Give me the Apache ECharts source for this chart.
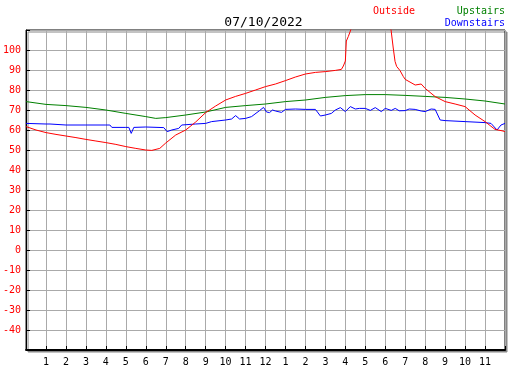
<!DOCTYPE html>
<html>
<head>
<meta charset="utf-8">
<script src="https://cdn.jsdelivr.net/npm/echarts@6/dist/echarts.min.js"></script>
<style>html,body{margin:0;padding:0;background:#fff;}#c{width:527px;height:370px;}</style>
</head>
<body>
<div id="c"></div>
<script>
var titleText = '07/10/2022';
var seriesNames = ['Outside', 'Upstairs', 'Downstairs'];
var xTickLabels = ['', '1','2','3','4','5','6','7','8','9','10','11','12','1','2','3','4','5','6','7','8','9','10','11',''];

var outsideHours = [0,0.5,1,1.5,2,2.5,3,3.5,4,4.5,5,5.5,6,6.3,6.7,7,7.5,8,8.5,9,9.5,10,10.5,11,11.5,12,12.5,13,13.5,14,14.5,15,15.5,15.8,15.9,16,16.05,16.15,16.27,16.4,17,17.5,18,18.29,18.4,18.49,18.57,18.74,18.9,19,19.5,19.8,20,20.5,21,21.5,22,22.5,23,23.5,23.9,24];
var outsideTemps = [61.7,60,58.7,57.8,57,56.2,55.3,54.5,53.7,52.8,51.7,50.8,50,49.8,50.8,53.5,57.5,60,64,68.7,72,75,76.8,78.3,80,81.7,83,84.7,86.5,88,88.8,89.2,89.8,90.3,92,94.5,104.5,106.8,110,118,125,125,120,110,101,94.3,91.8,89.7,86.8,85.3,82.5,83,80.8,76.7,74.2,73,71.7,67.5,64.2,60.3,59.5,59.2];

var upstairsHours = [0,1,2,3,4,5,6,6.5,7,8,9,10,11,12,13,14,15,16,17,18,19,20,21,22,23,24];
var upstairsTemps = [74.2,72.8,72.2,71.3,70,68.3,66.7,65.8,66.2,67.5,69,71.3,72.2,73,74.2,75,76.3,77.2,77.7,77.7,77.3,76.8,76.3,75.5,74.5,73];

var downstairsHours = [0,1,1.1,1.2,2,3,4,4.1,4.2,4.3,5,5.15,5.27,5.4,6,6.9,7.07,7.3,7.65,7.8,8.5,9,9.3,10,10.3,10.5,10.7,11,11.3,11.7,11.9,12.05,12.2,12.35,12.5,12.8,13,13.5,14,14.5,14.6,14.75,15,15.3,15.5,15.75,16,16.25,16.5,16.7,17,17.25,17.5,17.8,18,18.3,18.5,18.7,19,19.2,19.5,19.8,20,20.3,20.5,20.75,21,22,23,23.3,23.6,23.8,24];
var downstairsTemps = [63.3,63,62.7,63,62.5,62.5,62.5,63,62.5,61.3,61.3,61.3,58.3,61.3,61.5,61.2,59.2,60,60.8,62.5,63,63.3,64.2,65,65.5,67.2,65.5,65.8,66.7,69.7,71.3,69,68.7,70,69.5,68.8,70.3,70.5,70.3,70.3,69,67,67.5,68.3,70,71.2,69.2,71.7,70.5,70.8,70.8,69.8,71.2,69.2,70.8,69.8,70.8,69.6,69.7,70.5,70.3,69.5,69.2,70.5,70.3,65,64.7,64.2,63.7,63.3,60,62.5,63.3];

var yMin = -50, yMax = 110, yStep = 10;

function pairs(h, v) { return h.map(function (x, i) { return [x, v[i]]; }); }

var chart = echarts.init(document.getElementById('c'), null, {renderer: 'canvas'});
var mono = 'DejaVu Sans Mono';
chart.setOption({
  animation: false,
  backgroundColor: '#fff',
  title: {
    text: titleText, left: 'center', top: 11,
    textStyle: {fontFamily: mono, fontSize: 13, fontWeight: 'normal', color: '#000'}
  },
  graphic: [
    {type: 'text', left: 373, top: 6, style: {text: seriesNames[0], fill: '#ff0000', font: '10px "DejaVu Sans Mono"'}},
    {type: 'text', right: 22, top: 6, style: {text: seriesNames[1], fill: '#008000', font: '10px "DejaVu Sans Mono"'}},
    {type: 'text', right: 22, top: 18, style: {text: seriesNames[2], fill: '#0000ff', font: '10px "DejaVu Sans Mono"'}}
  ],
  grid: {
    left: 25, top: 30, right: 22, bottom: 20,
    show: true, backgroundColor: '#fff', borderColor: '#000', borderWidth: 1,
    shadowColor: '#888', shadowOffsetX: 2, shadowOffsetY: 2, shadowBlur: 0
  },
  xAxis: {
    type: 'value', min: 0, max: 24, interval: 1,
    axisLine: {show: true, onZero: false, lineStyle: {color: '#000', width: 2}},
    axisTick: {show: true, inside: true, length: 4, lineStyle: {color: '#000'}},
    axisLabel: {
      margin: 7, color: '#000', fontFamily: mono, fontSize: 10,
      formatter: function (v) { return xTickLabels[Math.round(v)] || ''; }
    },
    splitLine: {show: true, lineStyle: {color: '#aaaaaa', width: 1}}
  },
  yAxis: {
    type: 'value', min: yMin, max: yMax, interval: yStep,
    axisLine: {show: true, onZero: false, lineStyle: {color: '#000', width: 1}},
    axisTick: {show: true, inside: true, length: 4, lineStyle: {color: '#000'}},
    axisLabel: {
      margin: 5, color: '#ff0000', fontFamily: mono, fontSize: 10,
      formatter: function (v) { return (v <= yMin || v >= yMax) ? '' : String(v); }
    },
    splitLine: {show: true, lineStyle: {color: '#aaaaaa', width: 1}}
  },
  series: [
    {name: seriesNames[1], type: 'line', data: pairs(upstairsHours, upstairsTemps), showSymbol: false, clip: true,
      lineStyle: {color: '#008000', width: 1}},
    {name: seriesNames[2], type: 'line', data: pairs(downstairsHours, downstairsTemps), showSymbol: false, clip: true,
      lineStyle: {color: '#0000ff', width: 1}},
    {name: seriesNames[0], type: 'line', data: pairs(outsideHours, outsideTemps), showSymbol: false, clip: true,
      lineStyle: {color: '#ff0000', width: 1}}
  ]
});
</script>
</body>
</html>
